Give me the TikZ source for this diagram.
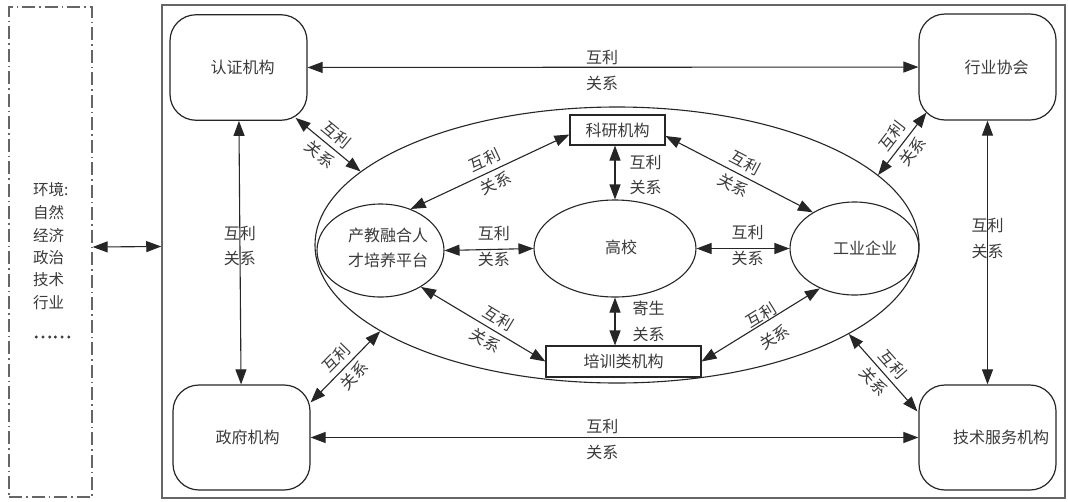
\documentclass[tikz,border=0pt]{standalone}
\usepackage{fontspec}
\setmainfont{Noto Sans CJK SC}
\newfontfamily\dotfont{Noto Sans CJK SC}[AutoFakeBold=3]
\usetikzlibrary{arrows.meta,calc,shapes.geometric}
\definecolor{linec}{HTML}{262626}
\definecolor{textc}{HTML}{3A3A3A}
\definecolor{framec}{HTML}{666666}
\newcommand{\mainfs}{\fontsize{16}{25.5}\selectfont}
\newcommand{\envfs}{\fontsize{15.5}{22}\selectfont}
\begin{document}
\begin{tikzpicture}[x=1pt,y=-1pt]
\tikzset{
  ent/.style={draw=linec, line width=1.2pt, rounded corners=26pt, minimum width=137pt, minimum height=106pt, inner sep=0pt, font=\mainfs, text=textc},
  ovl/.style={ellipse, draw=linec, line width=1.1pt, inner sep=0pt},
  sbox/.style={rectangle, draw=linec, line width=1.1pt, inner sep=0pt, font=\mainfs, text=textc},
  txt/.style={font=\mainfs, text=textc, inner sep=0pt, align=center},
  lab/.style={font=\mainfs, text=textc, inner sep=0pt, align=center},
  envt/.style={font=\envfs, text=textc, inner sep=0pt, anchor=west},
  biarrow/.style={draw=linec, line width=1.1pt, {Triangle[length=15pt,width=11pt]}-{Triangle[length=15pt,width=11pt]}},
}
\useasboundingbox (0,0) rectangle (1068,501);
\fill[white] (0,0) rectangle (1068,501);

% frames
\node[draw=framec, line width=1.5pt, minimum width=903pt, minimum height=493pt, inner sep=0pt] (frame) at (613.5,251.5) {};
\node[draw=framec, line width=1.3pt, dash pattern=on 13pt off 4pt on 1.5pt off 4pt, minimum width=83pt, minimum height=490pt, inner sep=0pt] (envbox) at (50.5,252) {};

% environment text
\foreach \t [count=\i] in {环境:,自然,经济,政治,技术,行业}
  \node[envt] (env\i) at (33,{190+22.5*(\i-1)}) {\t};
\node[envt, font=\fontsize{18}{20}\dotfont\bfseries] (envdots) at (33,337) {……};

% outer entities
\node[ent, minimum height=105.5pt] (rz) at (238.5,67.5) {\hspace*{8pt}认证机构};
\node[ent] (hy) at (987.5,67) {\hspace*{18pt}行业协会};
\node[ent, minimum height=105pt] (zf) at (241.5,437.5) {\hspace*{12pt}政府机构};
\node[ent, minimum height=105pt] (js) at (987.5,437.5) {\hspace*{27pt}技术服务机构};

% ellipses
\node[ovl, minimum width=604pt, minimum height=276pt] (big) at (617,245) {};
\node[ovl, minimum width=127pt, minimum height=93pt] (pt) at (380.5,250.5) {};
\node[txt] (pttext) at (388,248) {产教融合人\\才培养平台};
\node[ovl, minimum width=162pt, minimum height=97pt] (gx) at (615,248.5) {};
\node[txt] (gxtext) at (621,247) {高校};
\node[ovl, minimum width=129pt, minimum height=93pt] (gy) at (854.5,248.5) {};
\node[txt] (gytext) at (865,248) {工业企业};
\node[sbox, minimum width=95pt, minimum height=30pt] (km) at (617.5,130) {科研机构};
\node[sbox, minimum width=155pt, minimum height=31pt] (px) at (623.5,361.5) {培训类机构};

% environment link
\draw[biarrow] ([yshift=5pt]envbox.east) -- ([yshift=5pt]frame.west);

% outer links
\draw[biarrow] (rz) -- node[lab, pos=0.482, yshift=-3pt]{互利\\关系} (hy);
\draw[biarrow] (zf) -- node[lab, pos=0.48, yshift=-2pt]{互利\\关系} (js);
\draw[biarrow] (rz) -- node[lab, pos=0.475]{互利\\关系} (zf);
\draw[biarrow] (hy) -- node[lab, pos=0.447]{互利\\关系} (js);

% links to the big ellipse
\draw[biarrow] ($(rz.south east)+(-12,-3)$) -- node[lab, sloped]{互利\\关系} (big.164);
\draw[biarrow] ($(hy.south west)+(8,-8)$) -- node[lab, sloped]{互利\\关系} (big.15.5);
\draw[biarrow] ($(zf.north east)+(0,18)$) -- node[lab, sloped]{互利\\关系} (big.200);
\draw[biarrow] (big.-21.3) -- node[lab, sloped]{互利\\关系} ($(js.north west)+(-1,27)$);

% inner links
\draw[biarrow] ($(km.west)+(0,4.5)$) -- node[lab, sloped]{互利\\关系} (pt.54);
\draw[biarrow] (km.south -| gx.north) -- node[lab, anchor=west, xshift=14pt, yshift=-2.5pt]{互利\\关系} (gx.north);
\draw[biarrow] ($(km.east)+(0,6)$) -- node[lab, sloped]{互利\\关系} (gy.139);
\draw[biarrow] (pt.east) -- node[lab, pos=0.555, yshift=3pt]{互利\\关系} (gx.west);
\draw[biarrow] (gx.east) -- node[lab, pos=0.55, yshift=3pt]{互利\\关系} (gy.west);
\draw[biarrow] (gx.south) -- node[lab, anchor=west, xshift=17pt]{寄生\\关系} (gx.south |- px.north);
\draw[biarrow] (pt.-42) -- node[lab, sloped, pos=0.57]{互利\\关系} (px.west);
\draw[biarrow] (gy.229) -- node[lab, sloped, pos=0.46, yshift=-5pt]{互利\\关系} (px.east);
\end{tikzpicture}
\end{document}
